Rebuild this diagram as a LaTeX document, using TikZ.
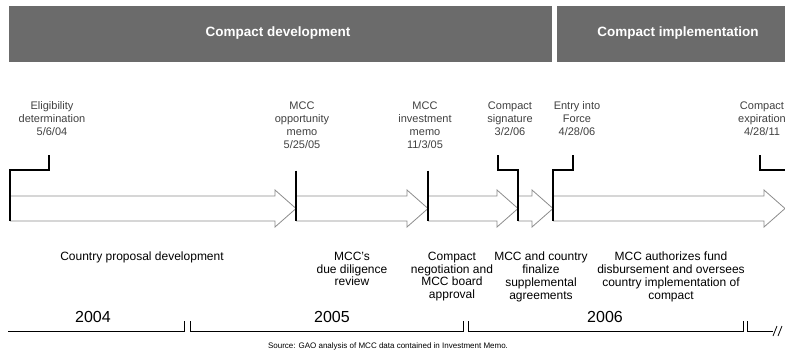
\documentclass[tikz,border=0pt]{standalone}
\usepackage{fontspec}
\setmainfont{Liberation Sans}
\usetikzlibrary{positioning,calc}
\tikzset{
phasebar/.style={fill=black!58, draw=none, anchor=north west, minimum height=56pt, inner sep=0pt},
phasetext/.style={text=white, font=\fontsize{13.5}{15}\selectfont\bfseries},
event/.style={align=center, anchor=north, inner sep=0pt, text=black!75, font=\fontsize{11}{12.9}\selectfont},
activity/.style={align=center, anchor=north, inner sep=0pt, font=\fontsize{12}{12.7}\selectfont},
year/.style={inner sep=0pt, font=\fontsize{16}{16}\selectfont},
bracket/.style={line width=2pt},
stage/.style={draw=black!45, line width=0.8pt},
yearline/.style={line width=0.8pt},
}

\begin{document}
\begin{tikzpicture}[x=1pt,y=-1pt]
    \useasboundingbox (0,0) rectangle (785,354);

    % phases
    \node[phasebar, minimum width=543pt] (dev) at (9,6) {};
    \node[phasebar, minimum width=228pt] (impl) at (557,6) {};
    \node[phasetext] (devtext) at (278,33) {Compact development};
    \node[phasetext] (impltext) at (678,33) {Compact implementation};

    % milestones
    \coordinate (m0) at (10,208.5);
    \coordinate (m1) at (296,208.5);
    \coordinate (m2) at (428,208.5);
    \coordinate (m3) at (518,208.5);
    \coordinate (m4) at (553,208.5);
    \coordinate (m5) at (785,208.5);

    \foreach \a/\b in {m0/m1,m1/m2,m2/m3,m3/m4,m4/m5}
        \draw[stage] ($(\a)+(0,-12.5)$) -- ($(\b)+(-21,-12.5)$) -- ($(\b)+(-21,-18.5)$) -- (\b)
            -- ($(\b)+(-21,18.5)$) -- ($(\b)+(-21,12.5)$) -- ($(\a)+(0,12.5)$);

    \draw[bracket] ($(m0)+(39,-53.5)$) -- ++(0,15) -| ($(m0)+(0,12.5)$);
    \draw[bracket] ($(m1)+(0,-38)$) -- ($(m1)+(0,12.5)$);
    \draw[bracket] ($(m2)+(0,-38)$) -- ($(m2)+(0,12.5)$);
    \draw[bracket] ($(m3)+(-20,-53.5)$) -- ++(0,15) -| ($(m3)+(0,12.5)$);
    \draw[bracket] ($(m4)+(20,-53.5)$) -- ++(0,15) -| ($(m4)+(0,12.5)$);
    \draw[bracket] ($(m5)+(-25,-53.5)$) -- ++(0,15) -- ($(m5)+(0,-38.5)$);

    \node[event] (e0) at (52,101.5) {Eligibility\\determination\\5/6/04};
    \node[event] (e1) at (302,101.5) {MCC\\opportunity\\memo\\5/25/05};
    \node[event] (e2) at (425,101.5) {MCC\\investment\\memo\\11/3/05};
    \node[event] (e3) at (510,101.5) {Compact\\signature\\3/2/06};
    \node[event] (e4) at (577,101.5) {Entry into\\Force\\4/28/06};
    \node[event] (e5) at (762,101.5) {Compact\\expiration\\4/28/11};

    % activities
    \node[activity] (a1) at (142,252) {Country proposal development};
    \node[activity] (a2) at (352,252) {MCC's\\due diligence\\review};
    \node[activity] (a3) at (452,252) {Compact\\negotiation and\\MCC board\\approval};
    \node[activity] (a4) at (541,252) {MCC and country\\finalize\\supplemental\\agreements};
    \node[activity] (a5) at (671,252) {MCC authorizes fund\\disbursement and oversees\\country implementation of\\compact};

    % years
    \coordinate (y0) at (8,331);
    \coordinate (y1) at (184,331);
    \coordinate (y2) at (190,331);
    \coordinate (y3) at (463,331);
    \coordinate (y4) at (468,331);
    \coordinate (y5) at (743,331);
    \coordinate (y6) at (747,331);
    \coordinate (y7) at (773,331);

    \draw[yearline] (y0) -- (y1) -- ++(0,-10);
    \draw[yearline] ($(y2)+(0,-10)$) -- (y2) -- (y3) -- ++(0,-10);
    \draw[yearline] ($(y4)+(0,-10)$) -- (y4) -- (y5) -- ++(0,-10);
    \draw[yearline] ($(y6)+(0,-10)$) -- (y6) -- (y7);
    \draw[yearline] ($(y7)+(0,5)$) -- ++(4,-10);
    \draw[yearline] ($(y7)+(5,5)$) -- ++(4,-10);

    \node[year] (y2004) at (93,317) {2004};
    \node[year] (y2005) at (332,317) {2005};
    \node[year] (y2006) at (605,317) {2006};

    \node[inner sep=0pt, font=\fontsize{8}{9}\selectfont] (src) at (388,346)
        {Source: GAO analysis of MCC data contained in Investment Memo.};

\end{tikzpicture}
\end{document}
